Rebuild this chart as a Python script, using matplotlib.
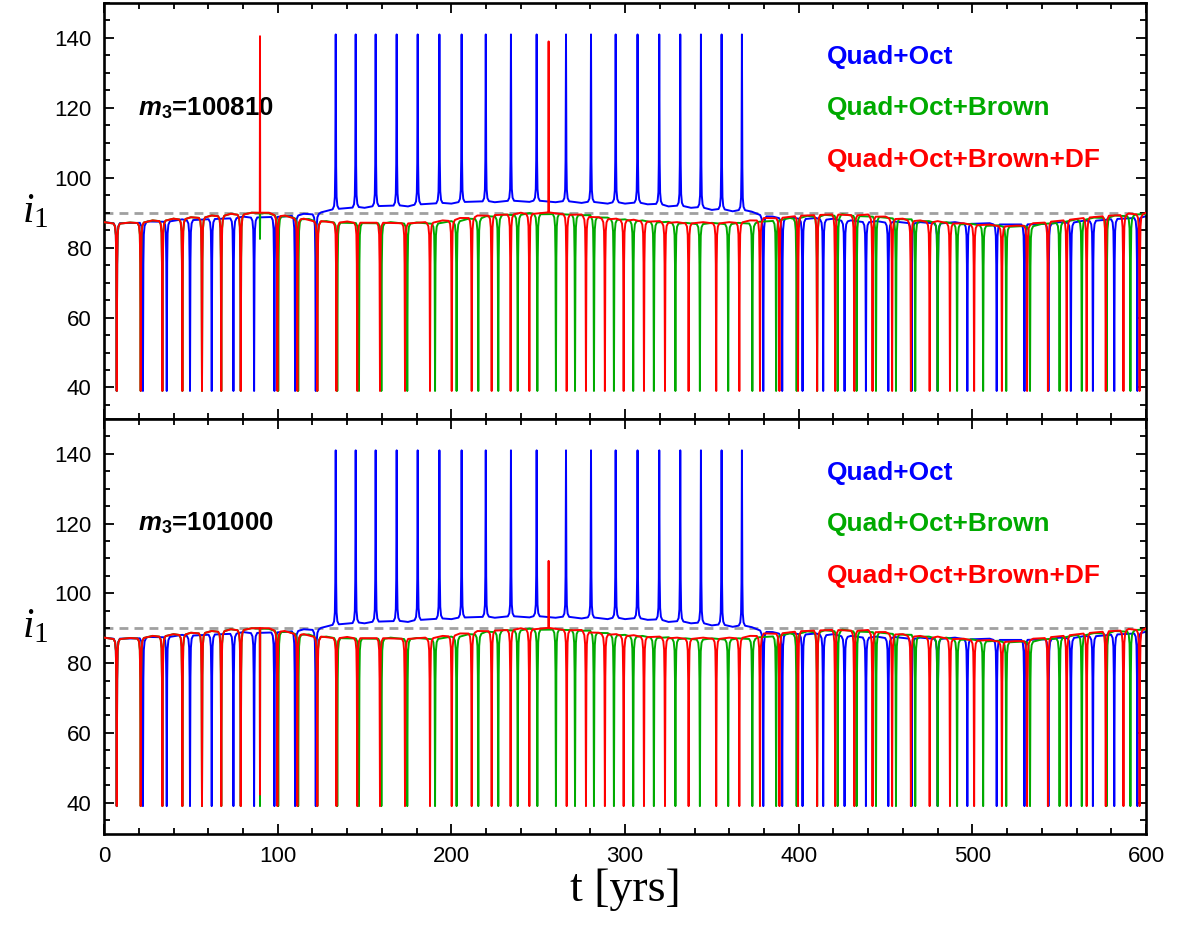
import numpy as np
import matplotlib.pyplot as plt
from matplotlib.ticker import MultipleLocator

plt.rcParams['font.family'] = ['Liberation Sans', 'DejaVu Sans']
plt.rcParams['mathtext.fontset'] = 'custom'
plt.rcParams['mathtext.rm'] = 'Liberation Serif'
plt.rcParams['mathtext.it'] = 'Liberation Serif:italic'
plt.rcParams['mathtext.bf'] = 'Liberation Sans:bold'
plt.rcParams['mathtext.bfit'] = 'Liberation Sans:bold:italic'

# ---- values (t in yrs, i1 in deg) ----
dip_bottom = 39.0
spike_top = 141.0

# baseline level between flips
blue_base_t = [0, 25, 45, 60, 80, 100, 115, 125, 132, 150, 175, 200, 225, 245, 260, 275,
               290, 300, 313, 325, 338, 350, 362, 373, 378, 385, 395, 410, 420, 430, 445,
               455, 470, 490, 510, 530, 550, 565, 580, 595, 600]
blue_base_v = [87.3, 87.5, 88.1, 88.5, 88.9, 89.2, 89.7, 90.1, 90.6, 91.4, 91.8, 92.6, 93.0,
               93.1, 93.0, 92.8, 92.6, 92.6, 92.4, 91.8, 91.4, 90.8, 90.4, 90.3, 89.7, 88.9,
               88.7, 88.5, 88.3, 87.8, 87.6, 87.5, 87.3, 87.3, 87.0, 87.0, 87.3, 87.8, 88.5,
               88.9, 89.0]

red_base_t = [0, 15, 28, 40, 50, 62, 73, 85, 95, 104, 115, 125, 140, 160, 175, 185, 195, 205,
              215, 225, 240, 256, 265, 275, 285, 295, 305, 320, 330, 345, 360, 372, 380, 390,
              400, 410, 420, 430, 440, 450, 460, 470, 480, 495, 510, 525, 535, 545, 555, 565,
              578, 590, 600]
red_base_v = [87.3, 87.2, 87.8, 88.3, 88.7, 89.2, 89.7, 90.0, 90.0, 89.2, 88.3, 87.6, 87.5,
              87.5, 87.3, 87.3, 87.8, 88.5, 89.2, 89.7, 90.0, 90.1, 89.9, 89.5, 88.7, 88.3,
              88.0, 87.6, 87.3, 87.3, 87.3, 87.8, 88.5, 88.9, 89.5, 89.7, 89.9, 89.7, 89.5,
              88.9, 88.3, 87.8, 87.6, 87.0, 86.6, 86.3, 87.0, 87.8, 88.3, 88.9, 89.5, 89.8,
              90.0]

green_base_t = [0, 15, 28, 40, 50, 62, 73, 85, 95, 106, 118, 128, 145, 165, 180, 190, 200,
                210, 220, 230, 245, 260, 270, 280, 290, 300, 310, 325, 335, 350, 365, 377, 385,
                395, 405, 415, 425, 435, 445, 455, 465, 475, 485, 500, 515, 530, 540, 550, 560,
                570, 582, 594, 600]
green_base_v = [87.3, 87.2, 87.8, 88.3, 88.7, 89.2, 89.7, 90.0, 89.8, 89.0, 88.2, 87.6, 87.4,
                87.3, 87.2, 87.2, 87.6, 88.3, 89.0, 89.5, 89.9, 90.0, 89.8, 89.3, 88.6, 88.1,
                87.8, 87.4, 87.1, 87.1, 87.1, 87.4, 88.0, 88.5, 89.1, 89.4, 89.6, 89.4, 89.2,
                88.7, 88.1, 87.6, 87.3, 86.8, 86.4, 86.2, 86.8, 87.5, 88.1, 88.6, 89.2, 89.5,
                89.6]

# times of the sharp flips
blue_dips = [7.3, 22.4, 36.1, 49.5, 62.0, 74.5, 86.4, 98.1, 110.0, 121.9,
             379.6, 390.5, 402.2, 414.1, 426.4, 438.7, 451.6, 465.0, 480.0, 497.1,
             514.0, 530.0, 543.8, 556.7, 569.4, 581.7, 595.0]
blue_spikes = [133.4, 144.9, 156.4, 168.5, 180.6, 193.1, 205.9, 219.8, 234.3, 249.1,
               266.0, 280.4, 294.6, 307.2, 319.7, 331.8, 343.7, 355.6, 367.3]

red_dips = [7.3, 21.1, 33.6, 45.1, 56.4, 67.5, 78.7, 99.8, 111.3, 122.8, 133.8, 145.8,
            158.9, 173.3, 187.7, 200.2, 211.7, 223.2, 234.1, 244.9, 266.4, 277.5, 288.4,
            299.2, 310.9, 323.0, 336.6, 352.5, 365.8, 377.7, 388.9, 399.6, 410.6, 421.0,
            432.0, 442.5, 453.8, 464.6, 475.4, 487.1, 501.0, 517.0, 531.5, 543.5, 554.3,
            565.8, 576.8, 587.0, 596.3]
red_flip_t = [89.8, 256.0]
red_flip_top = [140.5, 139.0]      # upper panel
red_flip_bottom = [42.3, 109.3]    # lower panel

green_dips = [7.3, 21.1, 33.6, 45.1, 56.4, 67.5, 78.7, 100.3, 111.8, 122.8, 134.3, 146.8,
              159.7, 174.6, 190.6, 203.0, 215.5, 227.0, 238.2, 249.5, 260.2, 271.2, 282.1,
              293.6, 304.7, 316.6, 329.0, 343.1, 359.4, 373.3, 387.0, 398.8, 410.6, 422.4,
              433.3, 444.5, 456.0, 467.1, 480.0, 491.2, 506.2, 519.5, 533.2, 550.2, 563.0,
              577.3, 591.0]
green_flip_t = 89.8
green_flip_top = 82.5
green_flip_bottom = 39.0

panel_labels = [r'$\mathbfit{m}_{\mathbf{3}}$=100810', r'$\mathbfit{m}_{\mathbf{3}}$=101000']
series_names = ['Quad+Oct', 'Quad+Oct+Brown', 'Quad+Oct+Brown+DF']
colors = ['#0000ff', '#00aa00', '#ff0000']

# shape of one flip around its centre (fraction of the excursion)
DT = np.array([-1.8, -0.95, -0.5, -0.25, -0.1, 0.0, 0.1, 0.25, 0.5, 0.95, 1.8])
FRAC = np.array([0.0075, 0.026, 0.077, 0.25, 0.66, 1.0, 0.66, 0.25, 0.077, 0.026, 0.0075])
DT_SHARP = np.array([-0.12, 0.0, 0.12])
FRAC_SHARP = np.array([0.0, 1.0, 0.0])


def trace(base_t, base_v, events):
    ev = np.array([e[0] for e in events])
    kt = np.array(base_t, float)
    keep = np.array([np.min(np.abs(ev - k)) > 2.0 for k in kt])
    ts = [kt[keep]]
    vs = [np.array(base_v, float)[keep]]
    for t0, target, sharp in events:
        dt, fr = (DT_SHARP, FRAC_SHARP) if sharp else (DT, FRAC)
        tt = t0 + dt
        b = np.interp(tt, base_t, base_v)
        ts.append(tt)
        vs.append(b + fr * (target - b))
    t = np.concatenate(ts)
    v = np.concatenate(vs)
    o = np.argsort(t)
    return t[o], v[o]


fig = plt.figure(figsize=(11.81, 9.31), dpi=100)
ax_top = fig.add_axes([0.0881, 0.5500, 0.8823, 0.4468])
ax_bot = fig.add_axes([0.0881, 0.1042, 0.8823, 0.4458])

for k, ax in enumerate([ax_top, ax_bot]):
    ax.axhline(90, color='#a0a0a0', lw=2.0, ls=(0, (3.2, 2.2)), zorder=1)

    blue_ev = ([(t, dip_bottom, False) for t in blue_dips]
               + [(t, spike_top, False) for t in blue_spikes])
    bt, bv = trace(blue_base_t, blue_base_v, blue_ev)
    ax.plot(bt, bv, color=colors[0], lw=1.4, zorder=2)

    g_flip = green_flip_top if k == 0 else green_flip_bottom
    green_ev = ([(t, dip_bottom, False) for t in green_dips]
                + [(green_flip_t, g_flip, True)])
    gt, gv = trace(green_base_t, green_base_v, green_ev)
    ax.plot(gt, gv, color=colors[1], lw=1.4, zorder=3)

    r_flip = red_flip_top if k == 0 else red_flip_bottom
    red_ev = ([(t, dip_bottom, False) for t in red_dips]
              + [(t, v, True) for t, v in zip(red_flip_t, r_flip)])
    rt, rv = trace(red_base_t, red_base_v, red_ev)
    ax.plot(rt, rv, color=colors[2], lw=1.4, zorder=4)

    ax.set_xlim(0, 600)
    ax.set_ylim(31, 150)
    ax.xaxis.set_major_locator(MultipleLocator(100))
    ax.xaxis.set_minor_locator(MultipleLocator(20))
    ax.yaxis.set_minor_locator(MultipleLocator(5))
    ax.set_yticks([40, 60, 80, 100, 120, 140])
    ax.tick_params(which='both', direction='in', top=True, right=True, width=1.3,
                   labelsize=16, pad=9)
    ax.tick_params(which='major', length=7)
    ax.tick_params(which='minor', length=4)
    for s in ax.spines.values():
        s.set_linewidth(1.9)

    ax.text(19.5, 120, panel_labels[k], fontsize=18.5, fontweight='bold', va='center',
            ha='left')
    for name, c, y in zip(series_names, colors, [134.5, 120, 105]):
        ax.text(416, y, name, color=c, fontsize=18.9, fontweight='bold', va='center',
                ha='left')
    ax.set_ylabel(r'$i_1$', fontsize=30, rotation=0, labelpad=14, va='center')

ax_top.tick_params(labelbottom=False)
ax_bot.set_xlabel('t [yrs]', fontsize=33, family='Liberation Serif', labelpad=1)

plt.savefig('out.png', dpi=100)
